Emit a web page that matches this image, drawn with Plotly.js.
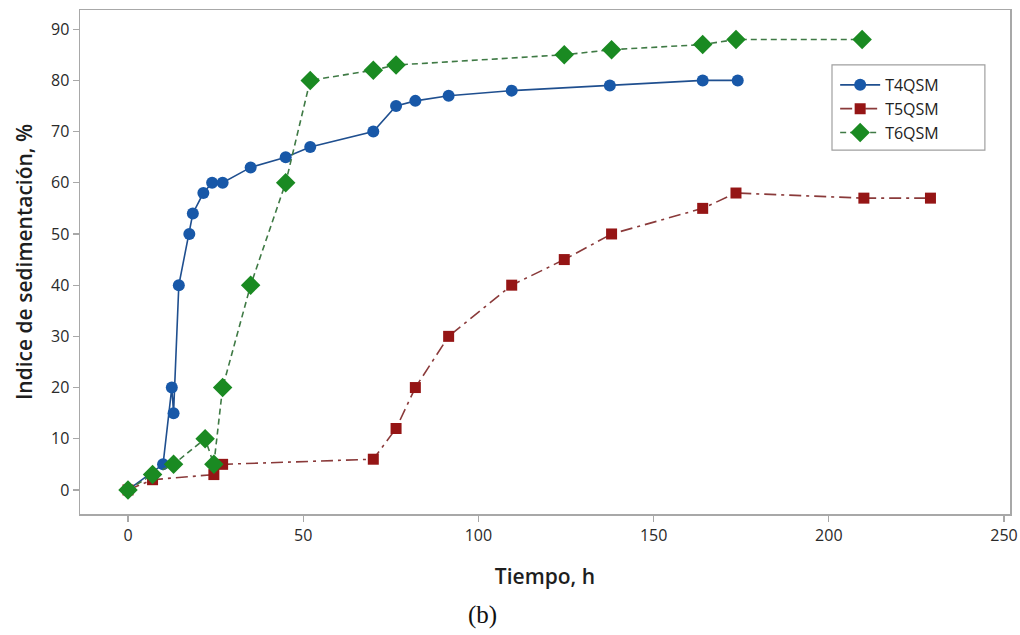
<!DOCTYPE html>
<html>
<head>
<meta charset="utf-8">
<script src="https://cdn.plot.ly/plotly-3.0.1.min.js"></script>
<style>
html,body{margin:0;padding:0;background:#fff;}
#chart{width:1020px;height:635px;}
</style>
</head>
<body>
<div id="chart"></div>
<script>
// T4QSM
const t4Time = [0, 10, 12.5, 13, 14.5, 17.5, 18.5, 21.5, 24, 27, 35, 45, 52, 70, 76.5, 82, 91.5, 109.5, 137.5, 164, 174];
const t4Index = [0, 5, 20, 15, 40, 50, 54, 58, 60, 60, 63, 65, 67, 70, 75, 76, 77, 78, 79, 80, 80];
// T5QSM
const t5Time = [0, 7, 24.5, 27, 70, 76.5, 82, 91.5, 109.5, 124.5, 138, 164, 173.5, 210, 229];
const t5Index = [0, 2, 3, 5, 6, 12, 20, 30, 40, 45, 50, 55, 58, 57, 57];
// T6QSM
const t6Time = [0, 7, 13, 22, 24.5, 27, 35, 45, 52, 70, 76.5, 124.5, 138, 164, 173.5, 209.5];
const t6Index = [0, 3, 5, 10, 5, 20, 40, 60, 80, 82, 83, 85, 86, 87, 88, 88];

const seriesNames = ["T4QSM", "T5QSM", "T6QSM"];
const xTicks = [0, 50, 100, 150, 200, 250];
const yTicks = [0, 10, 20, 30, 40, 50, 60, 70, 80, 90];

const traces = [
  {
    x: t4Time, y: t4Index, name: seriesNames[0], type: "scatter", mode: "lines+markers",
    line: {color: "#1f4f8f", width: 1.6, dash: "solid"},
    marker: {symbol: "circle", size: 12, color: "#1858a8", line: {width: 0}}
  },
  {
    x: t5Time, y: t5Index, name: seriesNames[1], type: "scatter", mode: "lines+markers",
    line: {color: "#8a3a3a", width: 1.6, dash: "12px,5px,3px,5px"},
    marker: {symbol: "square", size: 11, color: "#951515", line: {width: 0}}
  },
  {
    x: t6Time, y: t6Index, name: seriesNames[2], type: "scatter", mode: "lines+markers",
    line: {color: "#3f7a45", width: 1.6, dash: "6px,4px"},
    marker: {symbol: "diamond", size: 15, color: "#1a8a22", line: {width: 0}}
  }
];

const layout = {
  width: 1020, height: 635,
  margin: {l: 80, r: 10, t: 10, b: 121},
  paper_bgcolor: "#ffffff", plot_bgcolor: "#ffffff",
  font: {family: "Open Sans, Noto Sans, sans-serif", color: "#333333", size: 16},
  showlegend: true,
  legend: {
    x: 0.812, y: 0.885, xanchor: "left", yanchor: "top",
    bgcolor: "rgba(0,0,0,0)", borderwidth: 0,
    font: {size: 16, color: "#222222", family: "Open Sans, sans-serif"},
    tracegroupgap: 2, itemwidth: 40
  },
  shapes: [
    {
      type: "rect", xref: "paper", yref: "paper",
      x0: 0.8086, x1: 0.973, y0: 0.722, y1: 0.891,
      line: {color: "#a0a0a0", width: 1.2}, fillcolor: "rgba(255,255,255,0)", layer: "above"
    }
  ],
  xaxis: {
    range: [-13.7, 251.7], tickvals: xTicks, ticktext: xTicks.map(String),
    showgrid: false, zeroline: false, showline: true, mirror: true,
    linecolor: "#a8a8a8", linewidth: 1.5,
    ticks: "outside", ticklen: 6, tickcolor: "#a8a8a8", tickwidth: 1.2,
    tickfont: {size: 16, color: "#2a2a2a"},
    title: {text: "Tiempo, h", font: {size: 21, color: "#1e1e1e", family: "Open Sans, sans-serif", weight: 600}, standoff: 24}
  },
  yaxis: {
    range: [-4.7, 93.75], tickvals: yTicks, ticktext: yTicks.map(String),
    showgrid: false, zeroline: false, showline: true, mirror: true,
    linecolor: "#a8a8a8", linewidth: 1.5,
    ticks: "outside", ticklen: 6, tickcolor: "#a8a8a8", tickwidth: 1.2,
    tickfont: {size: 16, color: "#2a2a2a"},
    title: {text: "Indice de sedimentación, %", font: {size: 21, color: "#1e1e1e", family: "Open Sans, sans-serif", weight: 600}, standoff: 12}
  },
  annotations: [
    {
      text: "(b)", xref: "paper", yref: "paper", x: 0.433, y: -0.2,
      xanchor: "center", yanchor: "middle", showarrow: false,
      font: {family: "Liberation Serif, Times New Roman, serif", size: 25, color: "#111111"}
    }
  ]
};

Plotly.newPlot("chart", traces, layout, {displayModeBar: false, staticPlot: true});
</script>
</body>
</html>
